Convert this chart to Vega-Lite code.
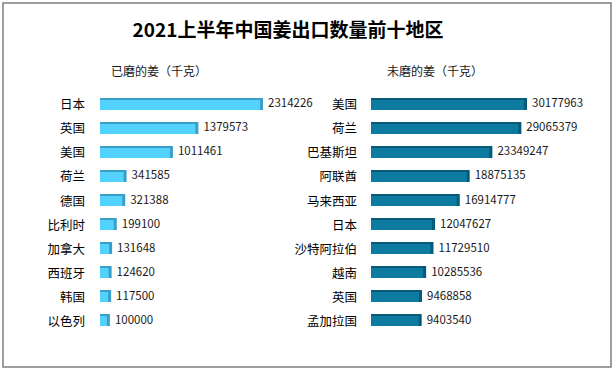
{
  "$schema": "https://vega.github.io/schema/vega-lite/v6.json",
  "width": 615,
  "height": 372,
  "autosize": {"type": "fit", "contains": "padding"},
  "padding": {"left": 3, "top": 3, "right": 4, "bottom": 5},
  "background": "white",
  "config": {
    "view": {"stroke": "#7f7f7f", "strokeWidth": 1.5},
    "text": {"font": "Noto Sans CJK SC"}
  },
  "title": {
    "text": "2021上半年中国姜出口数量前十地区",
    "font": "Noto Sans CJK SC",
    "fontSize": 19,
    "fontWeight": "bold",
    "color": "#000000",
    "anchor": "middle",
    "offset": -38,
    "dx": -19
  },
  "datasets": {
    "ground": [
      {"country": "日本", "rank": 1, "value": 2314226},
      {"country": "英国", "rank": 2, "value": 1379573},
      {"country": "美国", "rank": 3, "value": 1011461},
      {"country": "荷兰", "rank": 4, "value": 341585},
      {"country": "德国", "rank": 5, "value": 321388},
      {"country": "比利时", "rank": 6, "value": 199100},
      {"country": "加拿大", "rank": 7, "value": 131648},
      {"country": "西班牙", "rank": 8, "value": 124620},
      {"country": "韩国", "rank": 9, "value": 117500},
      {"country": "以色列", "rank": 10, "value": 100000}
    ],
    "unground": [
      {"country": "美国", "rank": 1, "value": 30177963},
      {"country": "荷兰", "rank": 2, "value": 29065379},
      {"country": "巴基斯坦", "rank": 3, "value": 23349247},
      {"country": "阿联酋", "rank": 4, "value": 18875135},
      {"country": "马来西亚", "rank": 5, "value": 16914777},
      {"country": "日本", "rank": 6, "value": 12047627},
      {"country": "沙特阿拉伯", "rank": 7, "value": 11729510},
      {"country": "越南", "rank": 8, "value": 10285536},
      {"country": "英国", "rank": 9, "value": 9468858},
      {"country": "孟加拉国", "rank": 10, "value": 9403540}
    ],
    "panels": [
      {"side": "left", "label": "已磨的姜（千克）", "x": 853376, "y": -0.3125},
      {"side": "right", "label": "未磨的姜（千克）", "x": 12623488, "y": -0.3125}
    ]
  },
  "resolve": {"scale": {"x": "independent"}},
  "layer": [
    {
      "data": {"name": "ground"},
      "layer": [
        {
          "mark": {"type": "bar", "color": "#3A9FC6", "xOffset": 3, "yOffset": -6, "y2Offset": 6},
          "encoding": {
            "x": {"field": "value", "type": "quantitative", "scale": {"domain": [-1403008, 7391104], "nice": false, "zero": false}, "axis": null},
            "x2": {"datum": 0},
            "y": {"field": "rank", "type": "quantitative", "scale": {"domain": [-3.2083, 11.9583], "reverse": true, "nice": false, "zero": false}, "axis": null},
            "y2": {"field": "rank"}
          }
        },
        {
          "mark": {"type": "bar", "color": "#52D2FD", "yOffset": -4, "y2Offset": 6},
          "encoding": {
            "x": {"field": "value", "type": "quantitative"},
            "x2": {"datum": 0},
            "y": {"field": "rank", "type": "quantitative"},
            "y2": {"field": "rank"}
          }
        },
        {
          "mark": {"type": "text", "align": "right", "baseline": "middle", "dx": -15, "dy": 1.5, "fontSize": 12.5, "color": "#000000"},
          "encoding": {
            "x": {"datum": 0, "type": "quantitative"},
            "y": {"field": "rank", "type": "quantitative"},
            "text": {"field": "country", "type": "nominal"}
          }
        },
        {
          "mark": {"type": "text", "align": "left", "baseline": "middle", "dx": 8, "dy": 0.5, "fontSize": 11.5, "color": "#1a1a1a"},
          "encoding": {
            "x": {"field": "value", "type": "quantitative"},
            "y": {"field": "rank", "type": "quantitative"},
            "text": {"field": "value", "type": "quantitative", "format": "d"}
          }
        },
        {
          "data": {"name": "panels"},
          "transform": [{"filter": "datum.side === 'left'"}],
          "mark": {"type": "text", "align": "center", "baseline": "middle", "fontSize": 12, "color": "#1a1a1a"},
          "encoding": {
            "x": {"field": "x", "type": "quantitative"},
            "y": {"field": "y", "type": "quantitative"},
            "text": {"field": "label", "type": "nominal"}
          }
        }
      ]
    },
    {
      "data": {"name": "unground"},
      "layer": [
        {
          "mark": {"type": "bar", "color": "#075B78", "xOffset": 3, "yOffset": -6, "y2Offset": 6},
          "encoding": {
            "x": {"field": "value", "type": "quantitative", "scale": {"domain": [-72585056, 47338080], "nice": false, "zero": false}, "axis": null},
            "x2": {"datum": 0},
            "y": {"field": "rank", "type": "quantitative"},
            "y2": {"field": "rank"}
          }
        },
        {
          "mark": {"type": "bar", "color": "#0D7BA0", "yOffset": -4, "y2Offset": 6},
          "encoding": {
            "x": {"field": "value", "type": "quantitative"},
            "x2": {"datum": 0},
            "y": {"field": "rank", "type": "quantitative"},
            "y2": {"field": "rank"}
          }
        },
        {
          "mark": {"type": "text", "align": "right", "baseline": "middle", "dx": -14, "dy": 1.5, "fontSize": 12.5, "color": "#000000"},
          "encoding": {
            "x": {"datum": 0, "type": "quantitative"},
            "y": {"field": "rank", "type": "quantitative"},
            "text": {"field": "country", "type": "nominal"}
          }
        },
        {
          "mark": {"type": "text", "align": "left", "baseline": "middle", "dx": 8, "dy": 0.5, "fontSize": 11.5, "color": "#1a1a1a"},
          "encoding": {
            "x": {"field": "value", "type": "quantitative"},
            "y": {"field": "rank", "type": "quantitative"},
            "text": {"field": "value", "type": "quantitative", "format": "d"}
          }
        },
        {
          "data": {"name": "panels"},
          "transform": [{"filter": "datum.side === 'right'"}],
          "mark": {"type": "text", "align": "center", "baseline": "middle", "fontSize": 12, "letterSpacing": 0.5, "color": "#1a1a1a"},
          "encoding": {
            "x": {"field": "x", "type": "quantitative"},
            "y": {"field": "y", "type": "quantitative"},
            "text": {"field": "label", "type": "nominal"}
          }
        }
      ]
    }
  ]
}
